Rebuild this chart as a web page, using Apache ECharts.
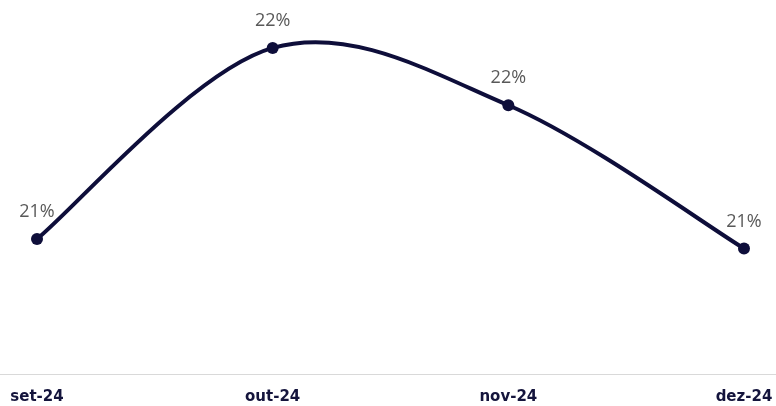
<!DOCTYPE html>
<html><head><meta charset="utf-8">
<script src="https://cdn.jsdelivr.net/npm/echarts@6/dist/echarts.min.js"></script>
<style>html,body{margin:0;padding:0;background:#fff}#c{width:776px;height:406px}</style>
</head><body><div id="c"></div>
<script>
const categories = ['set-24', 'out-24', 'nov-24', 'dez-24'];
const values = [21.3, 22.3, 22.0, 21.25];

const LINE_COLOR = '#0e0e3a';
const chart = echarts.init(document.getElementById('c'));

// Catmull-Rom style smoothing (like spreadsheet "smoothed line"), one segment per data item
function renderSegment(params, api) {
  const i = params.dataIndex;
  const n = values.length;
  if (i >= n - 1) return null;
  const pt = k => api.coord([Math.max(0, Math.min(n - 1, k)), values[Math.max(0, Math.min(n - 1, k))]]);
  const p0 = pt(i - 1), p1 = pt(i), p2 = pt(i + 1), p3 = pt(i + 2);
  return {
    type: 'bezierCurve',
    shape: {
      x1: p1[0], y1: p1[1], x2: p2[0], y2: p2[1],
      cpx1: p1[0] + (p2[0] - p0[0]) / 6, cpy1: p1[1] + (p2[1] - p0[1]) / 6,
      cpx2: p2[0] - (p3[0] - p1[0]) / 6, cpy2: p2[1] - (p3[1] - p1[1]) / 6
    },
    style: { stroke: LINE_COLOR, lineWidth: 4, fill: null, lineCap: 'round' }
  };
}

chart.setOption({
  animation: false,
  grid: [
    { left: 37, right: 32, top: 0, bottom: 32 },
    { left: 0, right: 0, top: 0, bottom: 32 }
  ],
  xAxis: [
    {
      type: 'category', data: categories, boundaryGap: false, gridIndex: 0,
      axisLine: { show: false }, axisTick: { show: false },
      axisLabel: { color: '#14143c', fontFamily: 'DejaVu Sans', fontWeight: 'bold', fontSize: 15, margin: 16 }
    },
    {
      type: 'category', data: ['a'], gridIndex: 1,
      axisLine: { show: true, lineStyle: { color: '#d9d9d9', width: 1 } },
      axisTick: { show: false }, axisLabel: { show: false }
    }
  ],
  yAxis: [
    { type: 'value', min: 20.593, max: 22.551, gridIndex: 0, show: false, splitLine: { show: false } },
    { type: 'value', gridIndex: 1, show: false, splitLine: { show: false } }
  ],
  series: [
    {
      type: 'custom', data: values.map((v, i) => [i, v]),
      renderItem: renderSegment, clip: false, z: 1, silent: true
    },
    {
      type: 'line', data: values, z: 2,
      lineStyle: { opacity: 0 },
      itemStyle: { color: LINE_COLOR },
      symbol: 'circle', symbolSize: 12,
      label: {
        show: true, position: 'top', distance: 12,
        color: '#595959', fontFamily: 'Open Sans', fontSize: 18,
        formatter: p => Math.round(p.value) + '%'
      }
    }
  ]
});
</script></body></html>
